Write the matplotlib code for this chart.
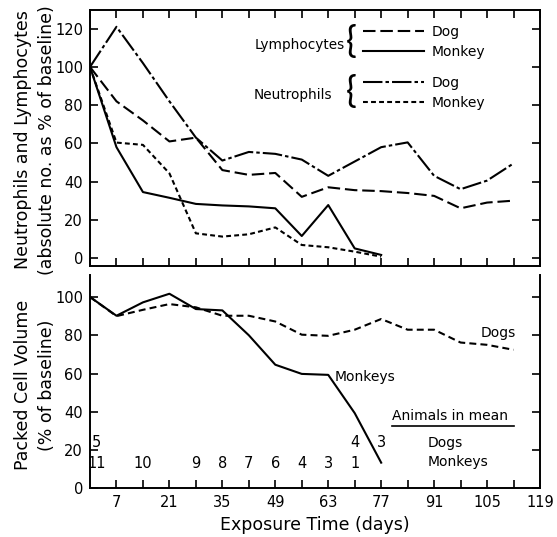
import matplotlib
matplotlib.use('Agg')
import matplotlib.pyplot as plt
from matplotlib.ticker import MultipleLocator, FixedLocator

plt.rcParams['font.family'] = ['DejaVu Sans']
plt.rcParams['lines.scale_dashes'] = False

# ---- data (top panel: % of baseline) ----
days_dog = [0, 7, 14, 21, 28, 35, 42, 49, 56, 63, 70, 77, 84, 91, 98, 105, 112]
days_monkey = [0, 7, 14, 21, 28, 35, 42, 49, 56, 63, 70, 77]
lymph_dog = [100, 82, 72, 61, 63, 46, 43.5, 44.5, 32, 37, 35.5, 35, 34, 32.5, 26, 29, 30]
lymph_monkey = [100, 58, 34.5, 31.5, 28.3, 27.5, 27, 26, 11.5, 27.7, 5, 1.6]
neut_dog = [100, 121, 102, 82, 63, 51, 55.5, 54.5, 51.5, 43, 50.5, 58, 60.5, 43, 36, 40.5, 49.5]
neut_monkey = [100, 60.4, 59.2, 44.3, 12.9, 11.2, 12.4, 16, 6.8, 5.6, 3.3, 0.7]

# ---- data (bottom panel: packed cell volume) ----
pcv_dog = [100, 90, 93.3, 96.3, 94.6, 90.2, 90.2, 87.2, 80.3, 79.7, 82.9, 88.5, 82.9, 82.9, 76.2, 75, 72.4]
pcv_monkey = [100, 90.2, 97.2, 101.7, 93.7, 93, 80, 64.6, 59.8, 59.3, 39.3, 13.4]

# animals in mean
n_dogs_days = [0, 70, 77]
n_dogs = [5, 4, 3]
n_monkeys_days = [0, 14, 28, 35, 42, 49, 56, 63, 70]
n_monkeys = [11, 10, 9, 8, 7, 6, 4, 3, 1]

x_ticklabels = [7, 21, 35, 49, 63, 77, 91, 105, 119]

W, H = 557, 537
fig = plt.figure(figsize=(W / 100, H / 100), dpi=100)
fig.patch.set_facecolor('white')

def fx(px):
    return px / W

def fy(py):
    return 1 - py / H

L, R = 90, 540
ax1 = fig.add_axes([fx(L), fy(266), fx(R) - fx(L), fy(10) - fy(266)])
ax2 = fig.add_axes([fx(L), fy(488.3), fx(R) - fx(L), fy(275) - fy(488.3)])

lw = 1.5
k = 'black'
st_ldog = (0, (9, 3.5))
st_ndog = (0, (14, 2.2, 2.5, 2.2))
st_nmon = (0, (3.5, 2.3))

l_ldog, = ax1.plot(days_dog, lymph_dog, color=k, lw=lw, linestyle=st_ldog)
l_lmon, = ax1.plot(days_monkey, lymph_monkey, color=k, lw=lw, linestyle='-')
l_ndog, = ax1.plot(days_dog, neut_dog, color=k, lw=lw, linestyle=st_ndog)
l_nmon, = ax1.plot(days_monkey, neut_monkey, color=k, lw=lw, linestyle=st_nmon)

ax2.plot(days_dog, pcv_dog, color=k, lw=lw, linestyle=(0, (5, 3)))
ax2.plot(days_monkey, pcv_monkey, color=k, lw=lw, linestyle='-')

for ax in (ax1, ax2):
    ax.set_xlim(0, 119)
    ax.xaxis.set_major_locator(MultipleLocator(7))
    for s in ax.spines.values():
        s.set_linewidth(1.4)
    ax.tick_params(direction='in', length=6, width=1.2, labelsize=10.5,
                   top=(ax is ax1), right=True, pad=5)

ax1.set_ylim(-4.2, 129.8)
ax1.yaxis.set_major_locator(MultipleLocator(20))
ax1.tick_params(axis='x', labelbottom=False)

ax2.set_ylim(0, 111.5)
ax2.yaxis.set_major_locator(MultipleLocator(20))
ax2.spines['top'].set_visible(False)
ax2.xaxis.set_major_locator(FixedLocator(list(range(7, 120, 7))))
ax2.set_xticklabels([str(t) if t in x_ticklabels else '' for t in range(7, 120, 7)])
ax2.tick_params(axis='x', pad=4.5)

ax2.set_xlabel('Exposure Time (days)', fontsize=12.5, labelpad=5)

fig.text(fx(35), fy(140), 'Neutrophils and Lymphocytes\n(absolute no. as % of baseline)',
         rotation=90, ha='center', va='center', fontsize=12.5, linespacing=1.45,
         multialignment='center')
fig.text(fx(35), fy(385), 'Packed Cell Volume\n(% of baseline)',
         rotation=90, ha='center', va='center', fontsize=12.5, linespacing=1.45,
         multialignment='center')

# legends in top panel
def ax1x(px):
    return (px - L) / (R - L)

def ax1y(py):
    return (266 - py) / (266 - 10)

leg1 = ax1.legend([l_ldog, l_lmon], ['Dog', 'Monkey'], loc='center left',
                  bbox_to_anchor=(ax1x(363), ax1y(42)), frameon=False,
                  handlelength=4.4, handletextpad=0.55, labelspacing=0.45,
                  borderpad=0, borderaxespad=0, fontsize=10)
ax1.add_artist(leg1)
leg2 = ax1.legend([l_ndog, l_nmon], ['Dog', 'Monkey'], loc='center left',
                  bbox_to_anchor=(ax1x(363), ax1y(93)), frameon=False,
                  handlelength=4.4, handletextpad=0.55, labelspacing=0.45,
                  borderpad=0, borderaxespad=0, fontsize=10)

ax1.text(ax1x(345), ax1y(45), 'Lymphocytes', transform=ax1.transAxes,
         ha='right', va='center', fontsize=9.8)
ax1.text(ax1x(332), ax1y(95), 'Neutrophils', transform=ax1.transAxes,
         ha='right', va='center', fontsize=9.8)
for yc in (42.5, 91.5):
    ax1.text(ax1x(351), ax1y(yc), '{', transform=ax1.transAxes, ha='center',
             va='center', fontsize=26, family=['Lato', 'Liberation Sans'],
             fontweight='normal')

# bottom panel annotations
ax2.text(108, 81.3, 'Dogs', ha='center', va='center', fontsize=10)
ax2.text(72.8, 58.1, 'Monkeys', ha='center', va='center', fontsize=10)
ax2.text(95.2, 37.8, 'Animals in mean', ha='center', va='center', fontsize=10)
ax2.plot([79.8, 112], [32.8, 32.8], color=k, lw=1.2)
ax2.text(89.4, 23.6, 'Dogs', ha='left', va='center', fontsize=10)
ax2.text(89.4, 13.9, 'Monkeys', ha='left', va='center', fontsize=10)

for d, n in zip(n_dogs_days, n_dogs):
    ax2.text(max(d, 1.7), 23.7, str(n), ha='center', va='center', fontsize=10.5)
for d, n in zip(n_monkeys_days, n_monkeys):
    ax2.text(max(d, 1.7), 13.2, str(n), ha='center', va='center', fontsize=10.5)

fig.savefig('out.png', dpi=100)
